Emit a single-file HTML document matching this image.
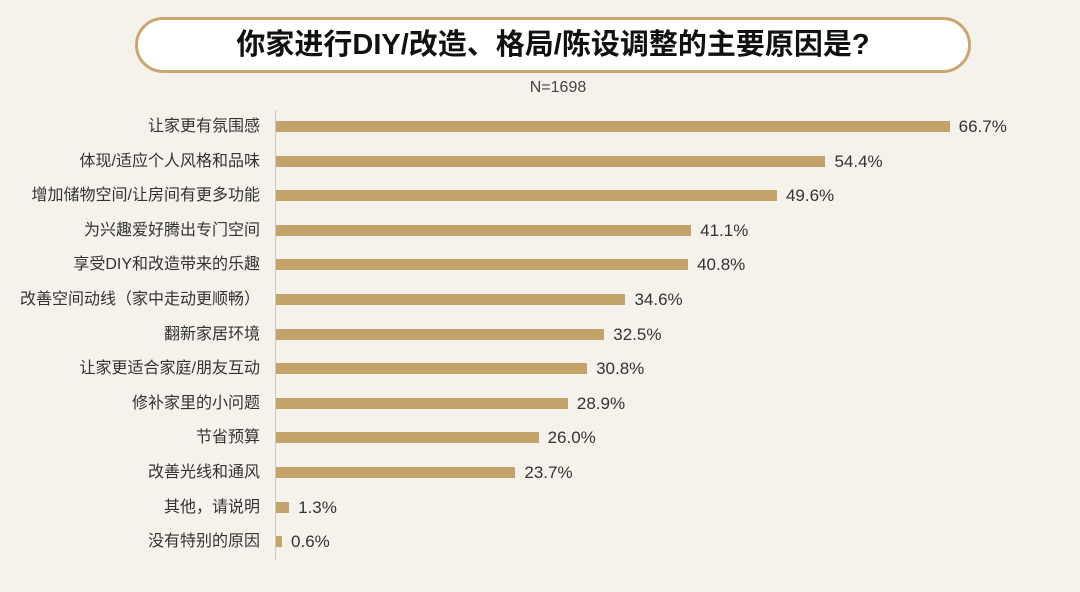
<!DOCTYPE html>
<html><head><meta charset="utf-8"><style>
body{margin:0;width:1080px;height:592px;background:#f5f2eb;font-family:"Liberation Sans","Noto Sans CJK SC",sans-serif;position:relative;overflow:hidden}
.title{position:absolute;left:135px;top:17px;width:830px;height:50px;border:3px solid #c8a870;border-radius:28px;background:#fff;text-align:center;line-height:50px;font-size:29px;font-weight:bold;color:#111}
.n{position:absolute;left:500px;width:116px;top:79px;text-align:center;font-size:16px;color:#444}
.axis{position:absolute;left:275px;top:110px;width:1px;height:450px;background:#ccc}
.row{position:absolute;left:0;width:1080px;height:20px}
.lab{position:absolute;right:820px;top:0;font-size:16px;color:#333;line-height:20px;white-space:nowrap}
.bar{position:absolute;left:276px;top:4px;height:11px;background:#c4a36b}
.val{position:absolute;top:0;font-size:17px;color:#333;line-height:20px}
</style></head><body>
<div class="title">你家进行DIY/改造、格局/陈设调整的主要原因是?</div>
<div class="n">N=1698</div>
<div class="axis"></div>
<div id="c"></div>
<script>
var d=[["让家更有氛围感",66.7],["体现/适应个人风格和品味",54.4],["增加储物空间/让房间有更多功能",49.6],["为兴趣爱好腾出专门空间",41.1],["享受DIY和改造带来的乐趣",40.8],["改善空间动线（家中走动更顺畅）",34.6],["翻新家居环境",32.5],["让家更适合家庭/朋友互动",30.8],["修补家里的小问题",28.9],["节省预算",26.0],["改善光线和通风",23.7],["其他，请说明",1.3],["没有特别的原因",0.6]];
var h="";d.forEach(function(r,i){var y=127+i*34.6-10,w=r[1]*10.1;
h+='<div class="row" style="top:'+y+'px"><div class="lab">'+r[0]+'</div><div class="bar" style="width:'+w+'px"></div><div class="val" style="left:'+(276+w+9)+'px">'+r[1].toFixed(1)+'%</div></div>';});
document.getElementById("c").innerHTML=h;
</script>
</body></html>
